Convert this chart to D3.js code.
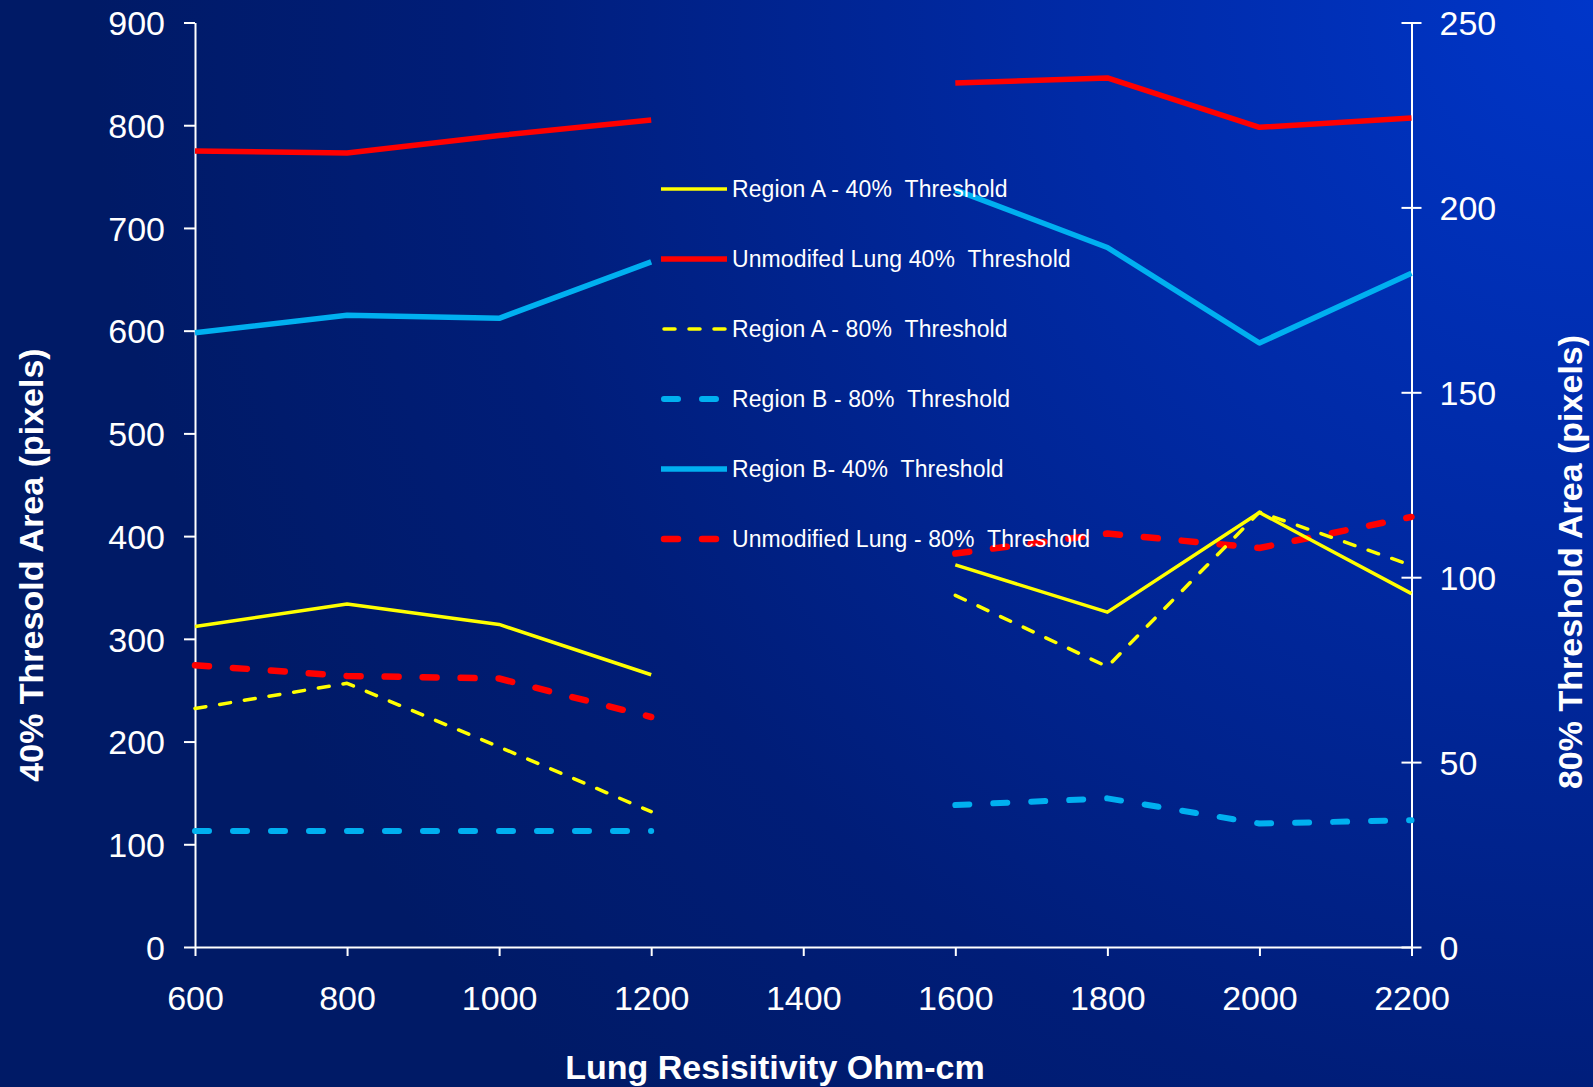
<!DOCTYPE html>
<html>
<head>
<meta charset="utf-8">
<script src="https://cdn.jsdelivr.net/npm/d3@7"></script>
<style>
  html, body { margin: 0; padding: 0; background: #001a68; }
  svg { display: block; }
  text { font-family: "Liberation Sans", Arial, sans-serif; fill: #ffffff; }
</style>
</head>
<body>
<svg id="chart" width="1593" height="1087"></svg>
<script>
// Lung resistivity (Ohm-cm); no measurement at 1400
const resistivity = [600, 800, 1000, 1200, 1400, 1600, 1800, 2000, 2200];
const xTicks = [600, 800, 1000, 1200, 1400, 1600, 1800, 2000, 2200];
const leftTicks = [0, 100, 200, 300, 400, 500, 600, 700, 800, 900];
const rightTicks = [0, 50, 100, 150, 200, 250];

// 40% threshold areas (left axis, pixels)
const regionA40 = [312, 334, 314, 265, null, 372, 326, 423, 344];
const unmodLung40 = [775, 773, 790, 805, null, 841, 846, 798, 807];
const regionB40 = [598, 615, 612, 667, null, 737, 681, 588, 656];

// 80% threshold areas (right axis, pixels)
const regionA80 = [64.5, 71.3, 54.1, 36.6, null, 95.1, 75.8, 117.6, 103.2];
const regionB80 = [31.4, 31.4, 31.4, 31.4, null, 38.4, 40.2, 33.4, 34.3];
const unmodLung80 = [76.2, 73.3, 72.6, 62.2, null, 106.4, 111.8, 107.9, 116.3];

const legendLabels = [
  "Region A - 40%  Threshold",
  "Unmodifed Lung 40%  Threshold",
  "Region A - 80%  Threshold",
  "Region B - 80%  Threshold",
  "Region B- 40%  Threshold",
  "Unmodified Lung - 80%  Threshold"
];

const svg = d3.select("#chart");
const W = 1593, H = 1087;
const plot = { left: 195, right: 1411.5, top: 22.5, bottom: 947 };

// background: bright blue in the upper right fading to navy
const defs = svg.append("defs");
const grad = defs.append("radialGradient")
  .attr("id", "bg").attr("gradientUnits", "userSpaceOnUse")
  .attr("cx", W).attr("cy", 0).attr("r", 1500);
grad.append("stop").attr("offset", 0).attr("stop-color", "#0036c9");
grad.append("stop").attr("offset", 0.35).attr("stop-color", "#002aa6");
grad.append("stop").attr("offset", 0.75).attr("stop-color", "#001d78");
grad.append("stop").attr("offset", 1).attr("stop-color", "#001a66");
svg.append("rect").attr("width", W).attr("height", H).attr("fill", "url(#bg)");

const x = d3.scaleLinear().domain([600, 2200]).range([plot.left, plot.right]);
const yL = d3.scaleLinear().domain([0, 900]).range([plot.bottom, plot.top]);
const yR = d3.scaleLinear().domain([0, 250]).range([plot.bottom, plot.top]);

function styleAxis(g) {
  g.selectAll("path, line").attr("stroke", "#ffffff").attr("stroke-width", 2);
  g.selectAll("text").attr("fill", "#ffffff").style("font-size", "34px")
    .style("font-family", "'Liberation Sans', Arial, sans-serif");
}

// left axis
const gL = svg.append("g").attr("transform", `translate(${plot.left},0)`)
  .call(d3.axisLeft(yL).tickValues(leftTicks).tickSize(11).tickSizeOuter(0).tickPadding(19).tickFormat(d3.format("d")));
styleAxis(gL);
gL.selectAll("text").attr("dy", "0.36em");

// right axis with ticks crossing the line
const gR = svg.append("g").attr("transform", `translate(${plot.right},0)`)
  .call(d3.axisRight(yR).tickValues(rightTicks).tickSize(10).tickSizeOuter(0).tickPadding(18).tickFormat(d3.format("d")));
gR.selectAll(".tick line").attr("x1", -10);
styleAxis(gR);
gR.selectAll("text").attr("dy", "0.36em");

// bottom axis
const gB = svg.append("g").attr("transform", `translate(0,${plot.bottom})`)
  .call(d3.axisBottom(x).tickValues(xTicks).tickSize(9).tickSizeOuter(0).tickPadding(30).tickFormat(d3.format("d")));
styleAxis(gB);
gB.selectAll("text").attr("dy", "0.71em");

// axis titles
svg.append("text")
  .attr("transform", `translate(43,565) rotate(-90)`)
  .attr("text-anchor", "middle")
  .style("font-size", "34px").style("font-weight", "bold")
  .text("40% Thresold Area (pixels)");
svg.append("text")
  .attr("transform", `translate(1582,562) rotate(-90)`)
  .attr("text-anchor", "middle")
  .style("font-size", "34px").style("font-weight", "bold")
  .text("80% Threshold Area (pixels)");
svg.append("text")
  .attr("x", 775).attr("y", 1079)
  .attr("text-anchor", "middle")
  .style("font-size", "34px").style("font-weight", "bold")
  .text("Lung Resisitivity Ohm-cm");

// series definitions
const series = [
  { values: regionA40, y: yL, color: "#ffff00", width: 3.5, dash: null, cap: "butt" },
  { values: unmodLung40, y: yL, color: "#ff0000", width: 5.5, dash: null, cap: "butt" },
  { values: regionA80, y: yR, color: "#ffff00", width: 3.5, dash: "11,14", cap: "round" },
  { values: regionB80, y: yR, color: "#00b0f0", width: 6, dash: "14,24", cap: "round" },
  { values: regionB40, y: yL, color: "#00b0f0", width: 5.5, dash: null, cap: "butt" },
  { values: unmodLung80, y: yR, color: "#ff0000", width: 6.5, dash: "14,24", cap: "round" }
];

const drawOrder = [5, 3, 2, 4, 1, 0];
drawOrder.forEach(i => {
  const s = series[i];
  const line = d3.line()
    .defined(d => d.v !== null)
    .x(d => x(d.r))
    .y(d => s.y(d.v));
  svg.append("path")
    .datum(resistivity.map((r, k) => ({ r, v: s.values[k] })))
    .attr("d", line)
    .attr("fill", "none")
    .attr("stroke", s.color)
    .attr("stroke-width", s.width)
    .attr("stroke-linecap", s.cap)
    .attr("stroke-linejoin", "round")
    .attr("stroke-dasharray", s.dash);
});

// legend
const legend = svg.append("g").attr("transform", "translate(661,189)");
series.forEach((s, i) => {
  const row = legend.append("g").attr("transform", `translate(0,${i * 70})`);
  row.append("line")
    .attr("x1", s.dash ? 3 : 0).attr("x2", 66)
    .attr("stroke", s.color).attr("stroke-width", s.width)
    .attr("stroke-linecap", s.cap)
    .attr("stroke-dasharray", s.dash);
  row.append("text")
    .attr("x", 71).attr("y", 0).attr("dy", "0.36em")
    .style("font-size", "23px").style("letter-spacing", "0.1px")
    .style("white-space", "pre")
    .attr("xml:space", "preserve")
    .text(legendLabels[i]);
});
</script>
</body>
</html>
